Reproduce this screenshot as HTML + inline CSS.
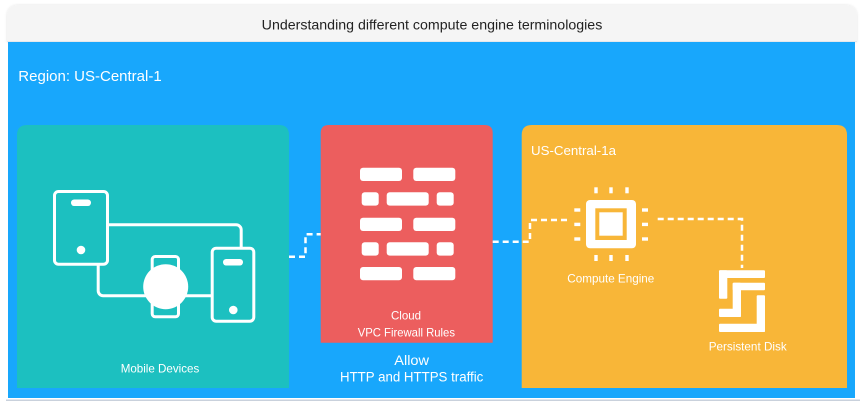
<!DOCTYPE html>
<html>
<head>
<meta charset="utf-8">
<style>
html,body{margin:0;padding:0;background:#ffffff;}
svg{display:block;}
text{font-family:"Liberation Sans",sans-serif;}
</style>
</head>
<body>
<svg width="862" height="408" viewBox="0 0 862 408" xmlns="http://www.w3.org/2000/svg">
  <defs>
    <filter id="sh" x="-5%" y="-5%" width="110%" height="110%">
      <feDropShadow dx="0" dy="0" stdDeviation="1.2" flood-color="#000" flood-opacity="0.12"/>
    </filter>
  </defs>
  <!-- outer card -->
  <path d="M7,42 V17 Q7,5 19,5 H845 Q857,5 857,17 V42 Z" fill="#f5f5f5" filter="url(#sh)"/>
  <rect x="7" y="41" width="850" height="1" fill="#e4e8ec"/>
  <rect x="8" y="42" width="847" height="356" fill="#18a7fc"/>
  <rect x="6" y="399.5" width="854" height="1.5" fill="#c9d1dc"/>

  <text x="261.7" y="29.7" font-size="14" fill="#222" textLength="340.6" lengthAdjust="spacingAndGlyphs">Understanding different compute engine terminologies</text>
  <text x="18.3" y="81" font-size="15" fill="#ffffff" textLength="143.4" lengthAdjust="spacingAndGlyphs">Region: US-Central-1</text>

  <!-- teal box -->
  <path d="M17,388 V135 Q17,125 27,125 H279 Q289,125 289,135 V388 Z" fill="#1cc0c0"/>
  <!-- red box -->
  <path d="M320.7,342.7 V133 Q320.7,125 328.7,125 H484.7 Q492.7,125 492.7,133 V342.7 Z" fill="#ec5e5e"/>
  <!-- orange box -->
  <path d="M521.7,388 V135 Q521.7,125 531.7,125 H837 Q847,125 847,135 V388 Z" fill="#f8b638"/>

  <!-- connectors -->
  <g fill="none" stroke="#ffffff" stroke-width="2.5" stroke-dasharray="6 4">
    <path d="M289,256.7 H305.5 V234.3 H320.7"/>
    <path d="M492.7,241.7 H530 V220 H569"/>
    <path d="M657.7,219 H742 V268"/>
  </g>

  <!-- mobile devices icon -->
  <g stroke="#ffffff" stroke-width="3" fill="#1cc0c0">
    <rect x="98.2" y="224.8" width="143" height="71" rx="5"/>
    <rect x="54.5" y="191.5" width="53" height="72.7" rx="4"/>
    <rect x="212.2" y="248.2" width="41.6" height="73" rx="4"/>
    <rect x="152.2" y="256.5" width="26.3" height="60.3" rx="3"/>
  </g>
  <g fill="#ffffff">
    <circle cx="165.7" cy="286.7" r="22.5"/>
    <rect x="71" y="199.5" width="20" height="6.5" rx="3.2"/>
    <circle cx="81" cy="250" r="4.3"/>
    <rect x="223" y="259" width="20" height="6.5" rx="3.2"/>
    <circle cx="233.3" cy="310" r="4.3"/>
  </g>
  <text x="120.7" y="372.7" font-size="12" fill="#ffffff" textLength="78.6" lengthAdjust="spacingAndGlyphs">Mobile Devices</text>

  <!-- firewall icon -->
  <g fill="#ffffff">
    <rect x="360" y="167.7" width="42" height="13.3" rx="3"/>
    <rect x="413.3" y="167.7" width="42" height="13.3" rx="3"/>
    <rect x="361.7" y="192.3" width="17" height="13.3" rx="3"/>
    <rect x="386.7" y="192.3" width="42" height="13.3" rx="3"/>
    <rect x="436.7" y="192.3" width="17" height="13.3" rx="3"/>
    <rect x="360" y="217.7" width="42" height="13.3" rx="3"/>
    <rect x="413.3" y="217.7" width="42" height="13.3" rx="3"/>
    <rect x="361.7" y="242.3" width="17" height="13.3" rx="3"/>
    <rect x="386.7" y="242.3" width="42" height="13.3" rx="3"/>
    <rect x="436.7" y="242.3" width="17" height="13.3" rx="3"/>
    <rect x="360" y="267" width="42" height="13.3" rx="3"/>
    <rect x="413.3" y="267" width="42" height="13.3" rx="3"/>
  </g>
  <text x="391" y="319.3" font-size="12" fill="#ffffff" textLength="30" lengthAdjust="spacingAndGlyphs">Cloud</text>
  <text x="357.7" y="336.7" font-size="12" fill="#ffffff" textLength="97.3" lengthAdjust="spacingAndGlyphs">VPC Firewall Rules</text>
  <text x="394.3" y="365" font-size="13.5" fill="#ffffff" textLength="34.7" lengthAdjust="spacingAndGlyphs">Allow</text>
  <text x="340" y="381.7" font-size="13.5" fill="#ffffff" textLength="143.3" lengthAdjust="spacingAndGlyphs">HTTP and HTTPS traffic</text>

  <!-- zone label -->
  <text x="531" y="155" font-size="13" fill="#ffffff" textLength="85" lengthAdjust="spacingAndGlyphs">US-Central-1a</text>

  <!-- chip icon -->
  <g fill="#ffffff">
    <rect x="586" y="200" width="50" height="48.3" rx="4"/>
  </g>
  <rect x="595.3" y="208.3" width="31.4" height="31.7" fill="#f8b638"/>
  <rect x="599.3" y="212.3" width="23.4" height="23.4" fill="#ffffff"/>
  <g fill="#ffffff">
    <rect x="594.3" y="187.3" width="3.4" height="6"/>
    <rect x="609.3" y="187.3" width="3.4" height="6"/>
    <rect x="625.3" y="187.3" width="3.4" height="6"/>
    <rect x="594.3" y="255" width="3.4" height="6"/>
    <rect x="609.3" y="255" width="3.4" height="6"/>
    <rect x="625.3" y="255" width="3.4" height="6"/>
    <rect x="574.3" y="208.3" width="6" height="3.4"/>
    <rect x="574.3" y="222.7" width="6" height="3.4"/>
    <rect x="574.3" y="237.3" width="6" height="3.4"/>
    <rect x="642" y="208.3" width="6" height="3.4"/>
    <rect x="642" y="222.7" width="6" height="3.4"/>
    <rect x="642" y="237.3" width="6" height="3.4"/>
  </g>
  <text x="567.3" y="282.3" font-size="12" fill="#ffffff" textLength="87" lengthAdjust="spacingAndGlyphs">Compute Engine</text>

  <!-- persistent disk icon -->
  <g fill="#ffffff">
    <rect x="719" y="270.3" width="46" height="7.7" rx="1"/>
    <rect x="719" y="270.3" width="8.3" height="28.4" rx="1"/>
    <rect x="732.7" y="282.7" width="32.3" height="7.6" rx="1"/>
    <rect x="732.7" y="282.7" width="8.3" height="34.3" rx="1"/>
    <rect x="719" y="308.7" width="22" height="8.3" rx="1"/>
    <rect x="756.7" y="295.3" width="8.3" height="36.7" rx="1"/>
    <rect x="719" y="323.7" width="46" height="8.3" rx="1"/>
  </g>
  <text x="708.7" y="350.7" font-size="12" fill="#ffffff" textLength="78" lengthAdjust="spacingAndGlyphs">Persistent Disk</text>
</svg>
</body>
</html>
